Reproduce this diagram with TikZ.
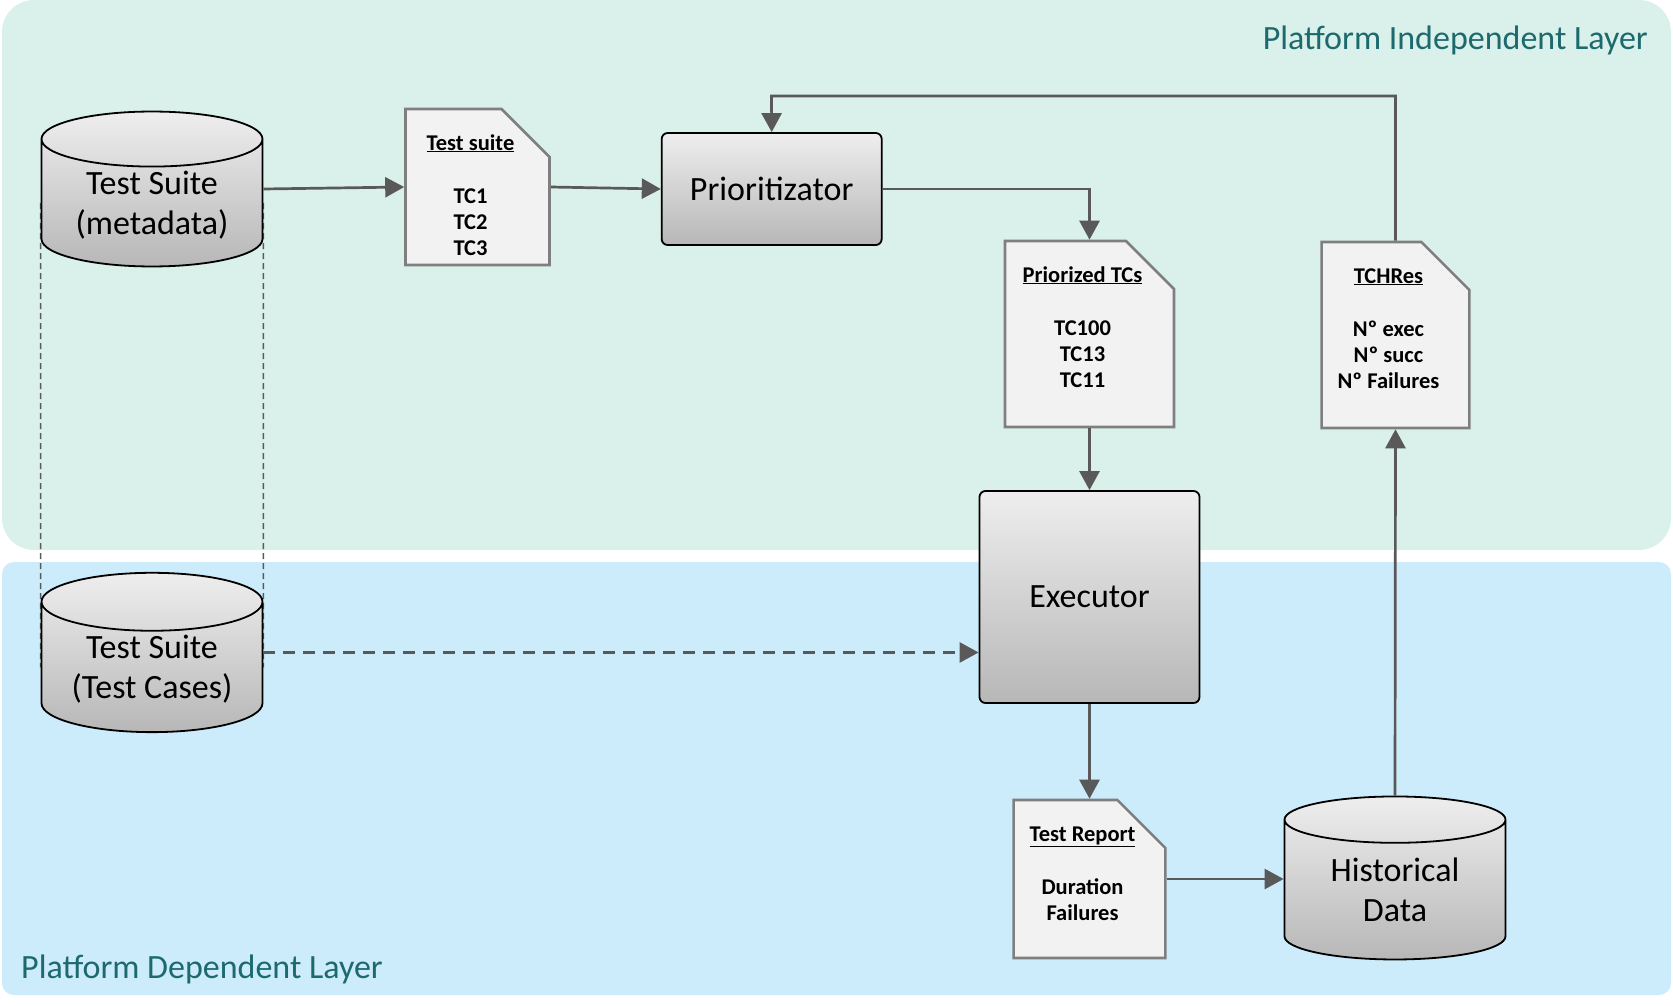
\documentclass[tikz,border=0pt]{standalone}
\usepackage{fontspec}
\setmainfont{Carlito}
\usepackage{xcolor}
\definecolor{color1}{HTML}{DAF0EA}
\definecolor{color2}{HTML}{CCEBFB}
\definecolor{color3}{HTML}{1C6A6E}
\definecolor{color4}{HTML}{595959}
\definecolor{color5}{HTML}{7F7F7F}
\definecolor{color6}{HTML}{F2F2F2}
\definecolor{color7}{HTML}{EEEEEE}
\definecolor{color8}{HTML}{B7B7B7}
\usepackage{tikz}
\usetikzlibrary{positioning,shapes.geometric,shapes.misc,arrows.meta}
\pgfdeclarelayer{bg}
\pgfdeclarelayer{mid}
\pgfsetlayers{bg,mid,main}
\tikzset{
  dbase/.style={cylinder,shape border rotate=90,aspect=0.36,draw=black,line width=1.8pt,top color=color7,bottom color=color8,minimum width=221pt,minimum height=149.5pt,inner sep=0pt,text height=67.3pt,text depth=4.2pt,align=center,font=\fontsize{34}{40}\selectfont},
  docu/.style={chamfered rectangle,chamfered rectangle corners=north east,chamfered rectangle sep=24pt,draw=color5,line width=2.6pt,fill=color6,inner xsep=-8pt,inner ysep=0pt,text height=17pt,font=\bfseries\fontsize{22.5}{26}\selectfont},
  proc/.style={rectangle,rounded corners=6pt,draw=black,line width=1.8pt,top color=color7,bottom color=color8,inner sep=0pt,align=center,font=\fontsize{34}{40}\selectfont},
  layer/.style={text=color3,inner sep=0pt,font=\fontsize{34}{40}\selectfont},
  arr/.style={draw=color4,line width=2.7pt,-{Triangle[length=19pt,width=20pt]}}
}
% title, blank line, then the lines of a document
\newcommand{\doclines}[2]{\begin{tabular}[t]{@{}c@{\hspace{14pt}}}\underline{#1}\\[27pt]#2\end{tabular}}
\begin{document}
\begin{tikzpicture}[x=1pt,y=-1pt]
  \useasboundingbox (0,0) rectangle (1673,1005);
  % the two layers
  \begin{pgfonlayer}{bg}
    \fill[color1,rounded corners=32pt] (2,0) rectangle (1671,550);
    \fill[color2,rounded corners=12pt] (2,562) rectangle (1671,995);
  \end{pgfonlayer}
  \node[layer,anchor=east] (l1) at (1648,40) {Platform Independent Layer};
  \node[layer,anchor=west] (l2) at (21,969) {Platform Dependent Layer};
  % Define the stores, documents and process boxes
  \node[dbase] (db1) at (152,203.2) {Test Suite\\(metadata)};
  \node[dbase] (db2) at (152,667.4) {Test Suite\\(Test Cases)};
  \node[dbase,minimum height=163pt] (db3) at (1395,890) {Historical\\Data};
  \node[docu,minimum width=144pt,text depth=91pt] (doc1) at (477.5,187) {\doclines{Test suite}{TC1\\TC2\\TC3}};
  \node[proc,minimum width=220pt,minimum height=112pt,right=110pt of doc1,yshift=-2pt] (p1) {Prioritizator};
  \node[docu,minimum width=169pt,text depth=121pt] (doc2) at (1089.5,334) {\doclines{Priorized TCs}{TC100\\TC13\\TC11}};
  \node[docu,minimum width=147pt,text depth=121pt] (doc3) at (1395.5,335) {\doclines{TCHRes}{Nº exec\\Nº succ\\Nº Failures}};
  \node[proc,minimum width=220pt,minimum height=212pt] (e1) at (1089.5,597) {Executor};
  \node[docu,minimum width=149pt,text depth=93pt] (doc4) at (1089.5,879) {\doclines{Test Report}{Duration\\Failures}};
  \coordinate (k1) at (771.5,96);
  % connectors
  \begin{pgfonlayer}{mid}
    \draw[color4,line width=1.6pt,dash pattern=on 6pt off 4pt] (db1.west) -- (db2.west);
    \draw[color4,line width=1.6pt,dash pattern=on 6pt off 4pt] (db1.east) -- (db2.east);
  \end{pgfonlayer}
  \draw[arr] (db1.east |- db1.shape center) -- (doc1.west);
  \draw[arr] (doc1.east) -- (p1.west);
  \draw[arr] (p1.east) -| (doc2.north);
  \draw[arr] (doc2.south) -- (e1.north);
  \draw[arr] (e1.south) -- (doc4.north);
  \draw[arr] (doc4.east) -- (doc4.east -| db3.west);
  \draw[arr] (db3.north) -- (doc3.south);
  \draw[arr] (doc3.north) |- (k1) -- (p1.north);
  \draw[arr,dash pattern=on 12pt off 8pt] (db2.east |- db2.shape center) -- (e1.west |- db2.shape center);
\end{tikzpicture}
\end{document}
